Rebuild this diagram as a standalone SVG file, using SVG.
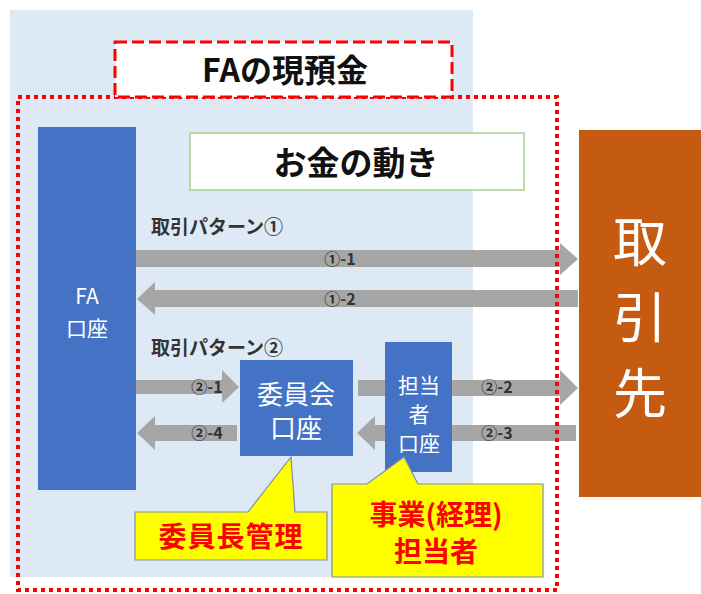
<svg xmlns="http://www.w3.org/2000/svg" width="701" height="594" viewBox="0 0 701 594">
<style>
.jp{font-family:"Noto Sans CJK JP","Noto Sans",sans-serif}
.arrow{fill:#A6A6A6}
.lbl{font-family:"Noto Sans CJK JP","Noto Sans",sans-serif;font-size:16px;font-weight:bold;fill:#333;text-anchor:middle}
.acct{fill:#4472C4}
.wt{font-family:"Noto Sans CJK JP","Noto Sans",sans-serif;fill:#fff;text-anchor:middle}
.call{fill:#FFFF00;stroke:#7F8FA9;stroke-width:1.2}
.rt{font-family:"Noto Sans CJK JP","Noto Sans",sans-serif;fill:#FF0000;font-weight:bold;font-size:28px;text-anchor:middle}
.pat{font-family:"Noto Sans CJK JP","Noto Sans",sans-serif;font-size:19px;font-weight:bold;fill:#333}
</style>
<rect x="0" y="0" width="701" height="594" fill="#fff"/>
<rect x="10" y="10" width="463" height="567" fill="#DDEAF6"/>
<g id="money-flow">
<rect x="190" y="133" width="334" height="57" fill="#fff" stroke="#A9D18E" stroke-width="1.5"/>
<text x="356" y="175" class="jp" font-size="33" font-weight="bold" text-anchor="middle" fill="#111">お金の動き</text>
</g>
<g id="fa-account">
<rect x="38" y="127" width="98" height="363" class="acct"/>
<text x="87" y="304" class="wt" font-size="21">FA</text>
<text x="87" y="336" class="wt" font-size="21">口座</text>
</g>
<g id="counterparty">
<rect x="579" y="130" width="122" height="367" fill="#C55A11"/>
<text x="640" y="262" class="wt" font-size="54">取</text>
<text x="640" y="338" class="wt" font-size="54">引</text>
<text x="640" y="414" class="wt" font-size="54">先</text>
</g>
<text x="151" y="234" class="pat">取引パターン①</text>
<text x="151" y="355" class="pat">取引パターン②</text>
<g id="connectors">
<polygon class="arrow" points="136,250 560,250 560,243 578,259 560,275 560,267 136,267"/>
<text x="340" y="265" class="lbl">①-1</text>
<polygon class="arrow" points="578,290 155,290 155,282 137,299 155,315 155,307 578,307"/>
<text x="340" y="305" class="lbl">①-2</text>
<polygon class="arrow" points="136,380 222,380 222,370 239,387 222,403 222,394 136,394"/>
<text x="207" y="393" class="lbl">②-1</text>
<polygon class="arrow" points="237,425 155,425 155,416 137,433 155,450 155,441 237,441"/>
<text x="207" y="439" class="lbl">②-4</text>
<polygon class="arrow" points="358,380 560,380 560,370 578,388 560,405 560,396 358,396"/>
<text x="497" y="393" class="lbl">②-2</text>
<polygon class="arrow" points="576,425 375,425 375,416 357,433 375,450 375,441 576,441"/>
<text x="497" y="439" class="lbl">②-3</text>
</g>
<g id="committee-account">
<rect x="240" y="360" width="113" height="96" class="acct"/>
<text x="296" y="404" class="wt" font-size="26">委員会</text>
<text x="296" y="438" class="wt" font-size="26">口座</text>
</g>
<g id="staff-account">
<rect x="385" y="342" width="67" height="130" class="acct"/>
<text x="419" y="393" class="wt" font-size="21">担当</text>
<text x="419" y="422" class="wt" font-size="21">者</text>
<text x="419" y="451" class="wt" font-size="21">口座</text>
</g>
<g id="callout-chair">
<path class="call" d="M135,512 L248,512 L291,457 L295,512 L327,512 L327,560 L135,560 Z"/>
<text x="231" y="547" class="rt" letter-spacing="1">委員長管理</text>
</g>
<g id="callout-staff">
<path class="call" d="M332,484 L367,484 L404,457 L418,484 L543,484 L543,577 L332,577 Z"/>
<text x="436" y="525" class="rt">事業(経理)</text>
<text x="436" y="562" class="rt">担当者</text>
</g>
<rect x="18" y="97" width="539" height="493" fill="none" stroke="#FF0000" stroke-width="4" stroke-dasharray="4 4"/>
<g id="fa-deposits">
<rect x="115" y="42" width="337" height="55" fill="#fff" stroke="#FF0000" stroke-width="3" stroke-dasharray="12 5"/>
<text x="285" y="82" class="jp" font-size="32" font-weight="bold" text-anchor="middle" fill="#111">FAの現預金</text>
</g>
</svg>
